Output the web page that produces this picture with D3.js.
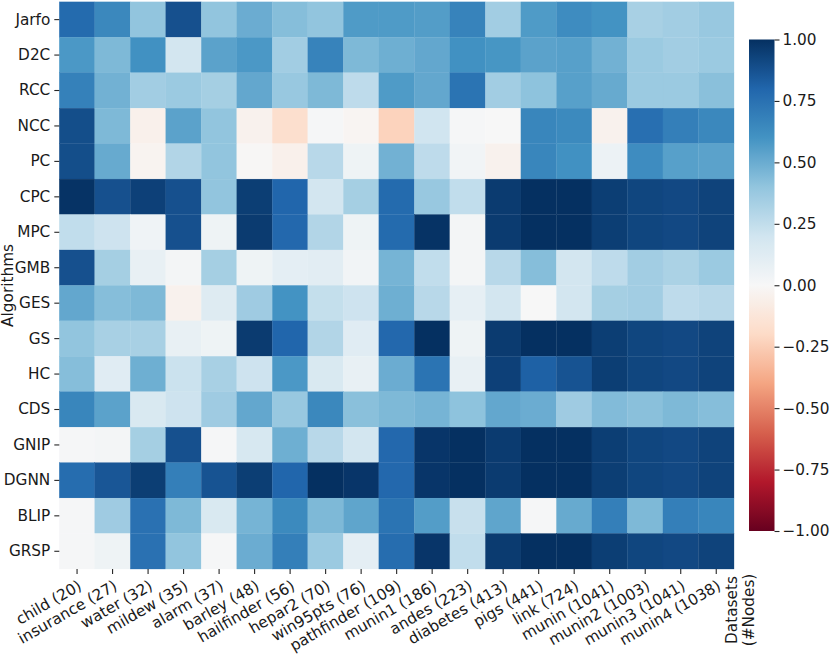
<!DOCTYPE html>
<html>
<head>
<meta charset="utf-8">
<script src="https://cdn.jsdelivr.net/npm/d3@7"></script>
<style>
  html, body { margin: 0; padding: 0; background: #fff; }
  svg { display: block; }
  text { font-family: "DejaVu Sans", sans-serif; fill: #1a1a1a; }
</style>
</head>
<body>
<svg id="chart" width="830" height="654"></svg>
<script>
const algorithms = ["Jarfo","D2C","RCC","NCC","PC","CPC","MPC","GMB","GES","GS","HC","CDS","GNIP","DGNN","BLIP","GRSP"];
const datasets = ["child (20)","insurance (27)","water (32)","mildew (35)","alarm (37)","barley (48)","hailfinder (56)","hepar2 (70)","win95pts (76)","pathfinder (109)","munin1 (186)","andes (223)","diabetes (413)","pigs (441)","link (724)","munin (1041)","munin2 (1003)","munin3 (1041)","munin4 (1038)"];

const rowJarfo = [0.78,0.65,0.40,0.88,0.40,0.50,0.43,0.40,0.57,0.57,0.56,0.67,0.35,0.57,0.63,0.60,0.33,0.35,0.38];
const rowD2C   = [0.58,0.45,0.61,0.19,0.54,0.58,0.35,0.67,0.45,0.49,0.52,0.61,0.59,0.54,0.55,0.48,0.37,0.35,0.37];
const rowRCC   = [0.68,0.48,0.35,0.37,0.34,0.52,0.38,0.45,0.26,0.57,0.52,0.74,0.35,0.41,0.55,0.51,0.37,0.37,0.42];
const rowNCC   = [0.89,0.45,-0.05,0.54,0.40,-0.04,-0.17,0.01,-0.02,-0.23,0.20,0.01,0.00,0.66,0.64,-0.04,0.76,0.69,0.65];
const rowPC    = [0.89,0.51,-0.03,0.30,0.40,-0.01,-0.05,0.28,0.05,0.48,0.26,0.03,-0.04,0.66,0.61,0.06,0.63,0.55,0.54];
const rowCPC   = [0.99,0.88,0.94,0.88,0.40,0.95,0.80,0.19,0.34,0.78,0.38,0.25,0.96,1.00,1.00,0.95,0.92,0.91,0.93];
const rowMPC   = [0.25,0.21,0.04,0.88,0.05,0.96,0.79,0.30,0.05,0.78,0.99,0.02,0.96,1.00,1.00,0.95,0.92,0.91,0.93];
const rowGMB   = [0.88,0.34,0.08,0.02,0.34,0.05,0.10,0.11,0.03,0.47,0.25,0.02,0.28,0.43,0.19,0.26,0.35,0.32,0.37];
const rowGES   = [0.52,0.43,0.45,-0.04,0.13,0.36,0.60,0.24,0.21,0.49,0.28,0.09,0.19,0.00,0.19,0.34,0.35,0.26,0.28];
const rowGS    = [0.40,0.33,0.33,0.08,0.05,0.96,0.80,0.30,0.12,0.79,1.00,0.05,0.96,1.00,1.00,0.95,0.92,0.91,0.93];
const rowHC    = [0.43,0.12,0.49,0.22,0.33,0.21,0.58,0.16,0.08,0.50,0.74,0.08,0.94,0.82,0.87,0.95,0.92,0.91,0.93];
const rowCDS   = [0.66,0.54,0.16,0.21,0.36,0.52,0.38,0.65,0.42,0.45,0.47,0.41,0.52,0.50,0.36,0.44,0.42,0.45,0.43];
const rowGNIP  = [0.01,0.02,0.34,0.88,0.01,0.17,0.49,0.28,0.19,0.79,0.98,1.00,0.96,1.00,1.00,0.95,0.92,0.91,0.93];
const rowDGNN  = [0.77,0.86,0.95,0.69,0.87,0.95,0.80,1.00,0.98,0.79,0.98,1.00,0.96,1.00,1.00,0.95,0.92,0.91,0.93];
const rowBLIP  = [0.01,0.36,0.75,0.45,0.16,0.47,0.64,0.45,0.53,0.74,0.56,0.23,0.53,0.01,0.51,0.69,0.45,0.69,0.66];
const rowGRSP  = [0.01,0.05,0.75,0.40,0.01,0.50,0.69,0.37,0.10,0.77,0.98,0.25,0.96,1.00,1.00,0.95,0.92,0.91,0.93];

const matrix = [rowJarfo,rowD2C,rowRCC,rowNCC,rowPC,rowCPC,rowMPC,rowGMB,rowGES,rowGS,rowHC,rowCDS,rowGNIP,rowDGNN,rowBLIP,rowGRSP];
const colorTicks = [1.0,0.75,0.5,0.25,0,-0.25,-0.5,-0.75,-1.0];
const yTitle = "Algorithms";
const xTitleLines = ["Datasets","(#Nodes)"];

// matplotlib RdBu anchors
const rdbuStops = ["#67001f","#b2182b","#d6604d","#f4a582","#fddbc7","#f7f7f7","#d1e5f0","#92c5de","#4393c3","#2166ac","#053061"];

(function draw() {
  const color = d3.scaleLinear()
    .domain(d3.range(11).map(i => -1 + i * 0.2))
    .range(rdbuStops)
    .interpolate(d3.interpolateRgb)
    .clamp(true);

  const svg = d3.select("#chart");
  const FS = "15.3px";

  const pL = 59.3, pR = 734, pT = 1.9, pB = 569;
  const x = d3.scaleBand().domain(datasets).range([pL, pR]).padding(0);
  const y = d3.scaleBand().domain(algorithms).range([pT, pB]).padding(0);

  const cells = [];
  matrix.forEach((row, i) => row.forEach((v, j) => cells.push({a: algorithms[i], d: datasets[j], v})));

  svg.append("g").selectAll("rect").data(cells).join("rect")
    .attr("x", d => x(d.d))
    .attr("y", d => y(d.a))
    .attr("width", x.bandwidth())
    .attr("height", y.bandwidth())
    .attr("fill", d => color(d.v))
    .attr("stroke", d => color(d.v))
    .attr("stroke-width", 0.3);

  // Y axis
  const yAxis = svg.append("g")
    .attr("transform", `translate(${pL},0)`)
    .call(d3.axisLeft(y).tickSize(5).tickPadding(4));
  yAxis.select(".domain").remove();
  yAxis.selectAll(".tick line").attr("stroke", "#262626").attr("stroke-width", 1.1);
  yAxis.selectAll(".tick text").attr("font-size", FS).attr("fill", "#1a1a1a")
    .attr("font-family", "DejaVu Sans");

  // X axis
  const xAxis = svg.append("g")
    .attr("transform", `translate(0,${pB})`)
    .call(d3.axisBottom(x).tickSize(5).tickPadding(4));
  xAxis.select(".domain").remove();
  xAxis.selectAll(".tick line").attr("stroke", "#262626").attr("stroke-width", 1.1);
  xAxis.selectAll(".tick text")
    .attr("font-size", FS).attr("fill", "#1a1a1a").attr("font-family", "DejaVu Sans")
    .attr("x", 0).attr("y", 0).attr("dy", null)
    .attr("text-anchor", "end")
    .attr("transform", "translate(5.7,19.8) rotate(-30)");

  // Axis titles
  svg.append("text")
    .attr("transform", `translate(12.8,${(pT + pB) / 2}) rotate(-90)`)
    .attr("text-anchor", "middle")
    .attr("font-size", FS)
    .text(yTitle);

  const xt = svg.append("text")
    .attr("transform", `translate(736.5,610) rotate(-90)`)
    .attr("text-anchor", "middle")
    .attr("font-size", FS);
  xTitleLines.forEach((t, i) => xt.append("tspan").attr("x", 0).attr("dy", i === 0 ? 0 : 17.5).text(t));

  // Colorbar
  const cbX = 749, cbW = 25.5, cbTop = 39.5, cbBot = 531;
  const defs = svg.append("defs");
  const grad = defs.append("linearGradient").attr("id", "cbgrad")
    .attr("x1", 0).attr("y1", 1).attr("x2", 0).attr("y2", 0);
  d3.range(0, 1.0001, 0.02).forEach(t => {
    grad.append("stop").attr("offset", t).attr("stop-color", color(-1 + 2 * t));
  });
  svg.append("rect").attr("x", cbX).attr("y", cbTop).attr("width", cbW).attr("height", cbBot - cbTop)
    .attr("fill", "url(#cbgrad)");

  const cScale = d3.scaleLinear().domain([-1, 1]).range([cbBot, cbTop]);
  const cAxis = svg.append("g")
    .attr("transform", `translate(${cbX + cbW},0)`)
    .call(d3.axisRight(cScale).tickValues(colorTicks).tickFormat(d3.format(".2f")).tickSize(5).tickPadding(3));
  cAxis.select(".domain").remove();
  cAxis.selectAll(".tick line").attr("stroke", "#262626").attr("stroke-width", 1.1);
  cAxis.selectAll(".tick text").attr("font-size", FS).attr("fill", "#1a1a1a").attr("font-family", "DejaVu Sans");
})();
</script>
</body>
</html>
